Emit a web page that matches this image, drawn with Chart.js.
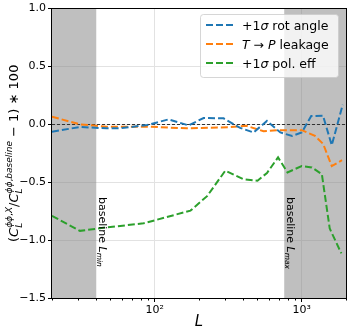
<!DOCTYPE html>
<html>
<head>
<meta charset="utf-8">
<script src="https://cdn.jsdelivr.net/npm/chart.js@4.4.0/dist/chart.umd.min.js"></script>
<style>html,body{margin:0;padding:0;background:#fff}</style>
</head>
<body>
<canvas id="myChart" width="349" height="331"></canvas>
<script>
/*** data ***/
const rotL = [20, 31, 47, 58, 89, 124, 170, 215, 294, 381, 470, 580, 715, 860, 1000, 1160, 1395, 1600, 1900];
const rotVals = [-0.063, -0.023, -0.034, -0.034, -0.006, 0.043, -0.009, 0.055, 0.052, -0.03, -0.07, 0.03, -0.07, -0.10, -0.07, 0.072, 0.075, -0.18, 0.17];

const leakL = [20, 31, 47, 89, 165, 320, 420, 550, 700, 1000, 1230, 1400, 1600, 1880];
const leakVals = [0.066, 0.0, -0.02, -0.02, -0.034, -0.025, -0.012, -0.06, -0.05, -0.05, -0.10, -0.17, -0.36, -0.31];

const polL = [20, 31, 47, 84, 175, 227, 302, 400, 500, 580, 690, 800, 1000, 1170, 1370, 1550, 1860];
const polVals = [-0.79, -0.92, -0.89, -0.855, -0.745, -0.62, -0.40, -0.473, -0.487, -0.42, -0.285, -0.415, -0.36, -0.372, -0.43, -0.90, -1.115];

const lminBand = [20, 40];
const lmaxBand = [760, 2000];
const xTicks = [100, 1000];
const xTickLabels = ["10²", "10³"];

const FONT = "'DejaVu Sans'";

// draw text made of pieces (italic, small, shifted); returns the width
function drawRich(ctx, parts, x, y, draw) {
  let cx = x;
  for (const p of parts) {
    if (p.stack) {
      const w1 = drawRich(ctx, p.sup, cx, y - p.supDy, draw);
      const w2 = drawRich(ctx, p.sub, cx, y + p.subDy, draw);
      cx += Math.max(w1, w2);
      continue;
    }
    ctx.font = (p.it ? "italic " : "") + (p.sz || 13) + "px " + FONT;
    if (draw) ctx.fillText(p.t, cx, y + (p.dy || 0));
    cx += ctx.measureText(p.t).width;
  }
  return cx - x;
}

const yTitle = [
  {t: "("}, {t: "C", it: 1},
  {stack: 1, supDy: 6, subDy: 3.5,
    sup: [{t: "ϕϕ", it: 1, sz: 9}, {t: ",", sz: 9}, {t: "X", it: 1, sz: 9}],
    sub: [{t: "L", it: 1, sz: 9}]},
  {t: "/"}, {t: "C", it: 1},
  {stack: 1, supDy: 6, subDy: 3.5,
    sup: [{t: "ϕϕ", it: 1, sz: 9}, {t: ",", sz: 9}, {t: "baseline", it: 1, sz: 9}],
    sub: [{t: "L", it: 1, sz: 9}]},
  {t: " − 1) ∗ 100"}
];

const legendRows = [
  [{t: "+1", sz: 12.5}, {t: "σ", it: 1, sz: 12.5}, {t: " rot angle", sz: 12.5}],
  [{t: "T", it: 1, sz: 12.5}, {t: " → ", sz: 12.5}, {t: "P", it: 1, sz: 12.5}, {t: " leakage", sz: 12.5}],
  [{t: "+1", sz: 12.5}, {t: "σ", it: 1, sz: 12.5}, {t: " pol. eff", sz: 12.5}]
];

function bandLabel(sub) {
  return [{t: "baseline ", sz: 11}, {t: "L", it: 1, sz: 11}, {t: sub, it: 1, sz: 7.5, dy: 2.2}];
}

const extras = {
  id: "extras",
  beforeDraw(chart) {
    const ctx = chart.ctx;
    ctx.save();
    ctx.fillStyle = "#fff";
    ctx.fillRect(0, 0, chart.width, chart.height);
    ctx.restore();
  },
  beforeDatasetsDraw(chart) {
    const {ctx, chartArea: a, scales: {x, y}} = chart;
    ctx.save();
    ctx.fillStyle = "rgba(128,128,128,0.5)";
    [lminBand, lmaxBand].forEach(b => {
      const x1 = x.getPixelForValue(b[0]), x2 = x.getPixelForValue(b[1]);
      ctx.fillRect(x1, a.top, x2 - x1, a.bottom - a.top);
    });
    // zero line
    const y0 = Math.round(y.getPixelForValue(0)) + 0.5;
    ctx.strokeStyle = "#333";
    ctx.lineWidth = 1;
    ctx.setLineDash([3, 2]);
    ctx.beginPath();
    ctx.moveTo(a.left, y0);
    ctx.lineTo(a.right, y0);
    ctx.stroke();
    ctx.restore();
  },
  afterDraw(chart) {
    const {ctx, chartArea: a, scales: {x, y}} = chart;
    ctx.save();
    // frame
    ctx.strokeStyle = "#000";
    ctx.lineWidth = 1;
    ctx.strokeRect(Math.round(a.left) - 0.5, Math.round(a.top) - 0.5,
      Math.round(a.right - a.left) + 1, Math.round(a.bottom - a.top) + 1);
    // minor ticks on log axis
    ctx.beginPath();
    for (let d = 10; d <= 1000; d *= 10) {
      for (let k = 2; k <= 9; k++) {
        const v = k * d;
        if (v < 20 || v > 2000) continue;
        const px = Math.round(x.getPixelForValue(v)) + 0.5;
        ctx.moveTo(px, a.bottom);
        ctx.lineTo(px, a.bottom + 2.5);
      }
    }
    ctx.stroke();

    ctx.fillStyle = "#000";
    ctx.textBaseline = "alphabetic";
    // y axis title
    ctx.save();
    ctx.translate(18, (a.top + a.bottom) / 2);
    ctx.rotate(-Math.PI / 2);
    const w = drawRich(ctx, yTitle, 0, 0, false);
    drawRich(ctx, yTitle, -w / 2, 0, true);
    ctx.restore();

    // band labels
    [[lminBand[1], "min"], [lmaxBand[0], "max"]].forEach(([v, s]) => {
      ctx.save();
      ctx.translate(x.getPixelForValue(v) + 3, 197);
      ctx.rotate(Math.PI / 2);
      drawRich(ctx, bandLabel(s), 0, 0, true);
      ctx.restore();
    });

    // legend box
    const lx = 200, ly = 14, lw = 138, lh = 63;
    ctx.fillStyle = "rgba(255,255,255,0.8)";
    ctx.strokeStyle = "rgba(204,204,204,0.8)";
    ctx.beginPath();
    ctx.roundRect(lx + 0.5, ly + 0.5, lw, lh, 3);
    ctx.fill();
    ctx.stroke();
    chart.data.datasets.forEach((ds, i) => {
      const ry = 25 + i * 19;
      ctx.strokeStyle = ds.borderColor;
      ctx.lineWidth = 2;
      ctx.setLineDash(ds.borderDash);
      ctx.beginPath();
      ctx.moveTo(206, ry);
      ctx.lineTo(233, ry);
      ctx.stroke();
      ctx.setLineDash([]);
      ctx.fillStyle = "#000";
      drawRich(ctx, legendRows[i], 242, ry + 4.5, true);
    });
    ctx.restore();
  }
};

const pts = (xs, ys) => xs.map((v, i) => ({x: v, y: ys[i]}));

const ctx = document.getElementById("myChart").getContext("2d");
const chart = new Chart(ctx, {
  type: "line",
  data: {
    datasets: [
      {
        label: "+1σ rot angle",
        borderColor: "#1f77b4",
        data: pts(rotL, rotVals),
      },
      {
        label: "T → P leakage",
        borderColor: "#ff7f0e",
        data: pts(leakL, leakVals),
      },
      {
        label: "+1σ pol. eff",
        borderColor: "#2ca02c",
        data: pts(polL, polVals),
      },
    ].map(d => Object.assign(d, {
      borderWidth: 2, borderDash: [7, 3], pointRadius: 0, fill: false, tension: 0
    })),
  },
  options: {
    responsive: false,
    animation: false,
    layout: {padding: {top: 7, right: 3, left: 0, bottom: 0}},
    plugins: {legend: {display: false}, tooltip: {enabled: false}},
    scales: {
      x: {
        type: "logarithmic",
        min: 20,
        max: 2000,
        afterBuildTicks: s => { s.ticks = xTicks.map(v => ({value: v})); },
        afterFit: s => { s.height = 33; },
        ticks: {
          autoSkip: false, maxRotation: 0, padding: 2, color: "#000",
          font: {family: FONT, size: 11},
          callback: v => xTickLabels[xTicks.indexOf(v)] || "",
        },
        grid: {color: "#e2e2e2", tickColor: "#000", tickLength: 4},
        border: {display: false},
        title: {display: true, text: "L", color: "#000", padding: 0,
          font: {family: FONT, size: 15, style: "italic"}},
      },
      y: {
        min: -1.5,
        max: 1.0,
        afterFit: s => { s.width = 52; },
        ticks: {
          stepSize: 0.5, padding: 2, color: "#000",
          font: {family: FONT, size: 11},
          callback: v => v.toFixed(1).replace("-", "−"),
        },
        grid: {color: "#e2e2e2", tickColor: "#000", tickLength: 4},
        border: {display: false},
      },
    },
  },
  plugins: [extras],
});
</script>
</body>
</html>
